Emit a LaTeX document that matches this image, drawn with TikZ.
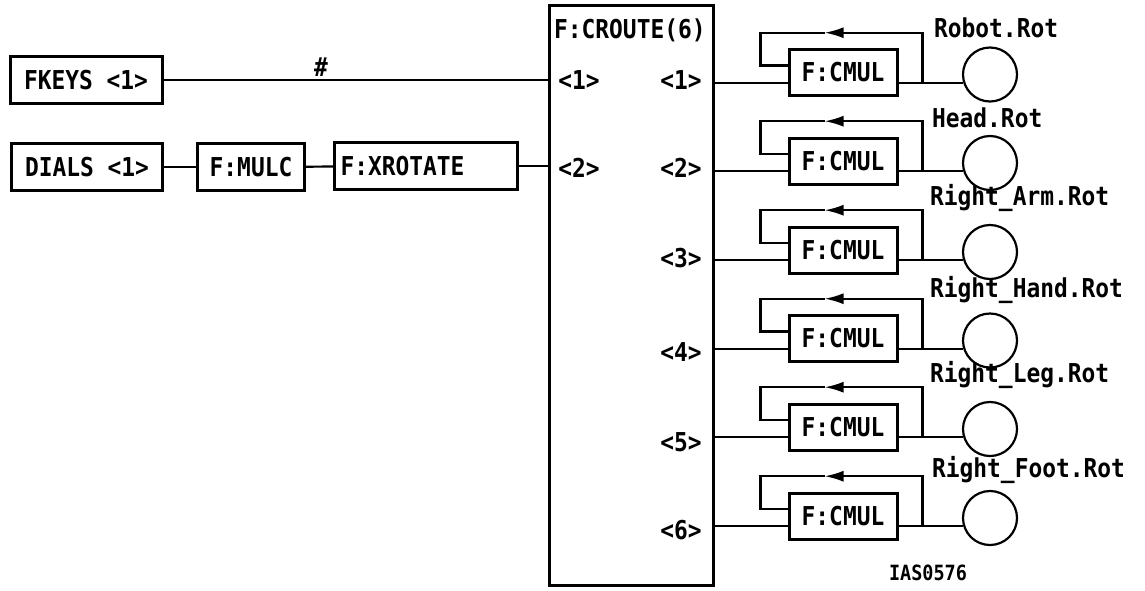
\documentclass[tikz,border=0pt]{standalone}
\usepackage{fontspec}
\newfontfamily\diagfont{DejaVu Sans Mono}[FakeStretch=0.88]
\usetikzlibrary{positioning,arrows.meta,calc}

\begin{document}
\begin{tikzpicture}[x=1pt, y=1pt,
    font=\diagfont\bfseries\fontsize{26}{30}\selectfont, >={Latex[length=19pt,width=11pt]}, line width=2.2pt,
    blk/.style={draw, line width=3pt, inner sep=0pt, minimum height=47pt},
    cmul/.style={blk, minimum width=108pt, minimum height=46pt},
    rot/.style={draw, circle, inner sep=0pt, minimum size=54pt},
    lbl/.style={anchor=west, inner sep=0pt}]
  \useasboundingbox (0,0) rectangle (1145,-590);
  % inputs
  \node[blk, minimum width=152pt] (fkeys) at (86,-80) {FKEYS <1>};
  \node[blk, minimum width=151pt] (dials) at (87,-167) {DIALS <1>};
  \node[blk, minimum width=107pt] (mulc) at (251,-167) {F:MULC};
  \node[blk, text width=171pt, inner xsep=6pt, align=left] (xrot) at (426,-166) {F:XROTATE};
  % router
  \node[draw, line width=3pt, minimum width=164pt, minimum height=580pt] (croute) at (631,-295) {};
  \node[lbl] (ctitle) at (553,-30) {F:CROUTE(6)};
  \node (pin1) at (579,-80) {<1>};
  \node (pin2) at (579,-168) {<2>};
  \draw (fkeys.east) -- node[pos=0.41, above, inner sep=2pt] (hash) {\#} (fkeys.east -| croute.west);
  \draw (dials) -- (mulc);
  \draw (mulc) -- (xrot);
  \draw (xrot.east) -- (xrot.east -| croute.west);
  % outputs
  \node[cmul] (cm1) at (843,-72.5) {F:CMUL};
  \node[rot] (rot1) at (990,-74.5) {};
  \node[lbl] (lb1) at (933,-28) {Robot.Rot};
  \node (pout1) at (681,-80) {<1>};
  \node[cmul] (cm2) at (843,-161) {F:CMUL};
  \node[rot] (rot2) at (990,-163) {};
  \node[lbl] (lb2) at (931,-118) {Head.Rot};
  \node (pout2) at (681,-168) {<2>};
  \node[cmul] (cm3) at (843,-250) {F:CMUL};
  \node[rot] (rot3) at (990,-252) {};
  \node[lbl] (lb3) at (929,-198) {Right\_Arm.Rot};
  \node (pout3) at (681,-258) {<3>};
  \node[cmul] (cm4) at (843,-338.5) {F:CMUL};
  \node[rot] (rot4) at (990,-340.5) {};
  \node[lbl] (lb4) at (929,-290) {Right\_Hand.Rot};
  \node (pout4) at (681,-352) {<4>};
  \node[cmul] (cm5) at (843,-427) {F:CMUL};
  \node[rot] (rot5) at (990,-429) {};
  \node[lbl] (lb5) at (929,-375) {Right\_Leg.Rot};
  \node (pout5) at (681,-442) {<5>};
  \node[cmul] (cm6) at (843,-516) {F:CMUL};
  \node[rot] (rot6) at (990,-518) {};
  \node[lbl] (lb6) at (931,-470) {Right\_Foot.Rot};
  \node (pout6) at (681,-530) {<6>};
  \draw (croute.east |- rot1.197) -- (cm1.west |- rot1.197);
  \draw (cm1.east |- rot1.197) -- (rot1.197);
  \draw[->] ($(cm1.east |- rot1.197)+(24,0)$) -- ++(0,50) -- ++(-98,0) coordinate (fa1);
  \draw (fa1) -| ($(cm1.west)+(-27,7)$) -- ($(cm1.west)+(0,7)$);
  \draw (croute.east |- rot2.197) -- (cm2.west |- rot2.197);
  \draw (cm2.east |- rot2.197) -- (rot2.197);
  \draw[->] ($(cm2.east |- rot2.197)+(24,0)$) -- ++(0,50) -- ++(-98,0) coordinate (fa2);
  \draw (fa2) -| ($(cm2.west)+(-27,7)$) -- ($(cm2.west)+(0,7)$);
  \draw (croute.east |- rot3.197) -- (cm3.west |- rot3.197);
  \draw (cm3.east |- rot3.197) -- (rot3.197);
  \draw[->] ($(cm3.east |- rot3.197)+(24,0)$) -- ++(0,50) -- ++(-98,0) coordinate (fa3);
  \draw (fa3) -| ($(cm3.west)+(-27,7)$) -- ($(cm3.west)+(0,7)$);
  \draw (croute.east |- rot4.197) -- (cm4.west |- rot4.197);
  \draw (cm4.east |- rot4.197) -- (rot4.197);
  \draw[->] ($(cm4.east |- rot4.197)+(24,0)$) -- ++(0,50) -- ++(-98,0) coordinate (fa4);
  \draw (fa4) -| ($(cm4.west)+(-27,7)$) -- ($(cm4.west)+(0,7)$);
  \draw (croute.east |- rot5.197) -- (cm5.west |- rot5.197);
  \draw (cm5.east |- rot5.197) -- (rot5.197);
  \draw[->] ($(cm5.east |- rot5.197)+(24,0)$) -- ++(0,50) -- ++(-98,0) coordinate (fa5);
  \draw (fa5) -| ($(cm5.west)+(-27,7)$) -- ($(cm5.west)+(0,7)$);
  \draw (croute.east |- rot6.197) -- (cm6.west |- rot6.197);
  \draw (cm6.east |- rot6.197) -- (rot6.197);
  \draw[->] ($(cm6.east |- rot6.197)+(24,0)$) -- ++(0,50) -- ++(-98,0) coordinate (fa6);
  \draw (fa6) -| ($(cm6.west)+(-27,7)$) -- ($(cm6.west)+(0,7)$);
  \node[lbl, font=\diagfont\bfseries\fontsize{21}{24}\selectfont] (figid) at (888,-573) {IAS0576};
\end{tikzpicture}
\end{document}
